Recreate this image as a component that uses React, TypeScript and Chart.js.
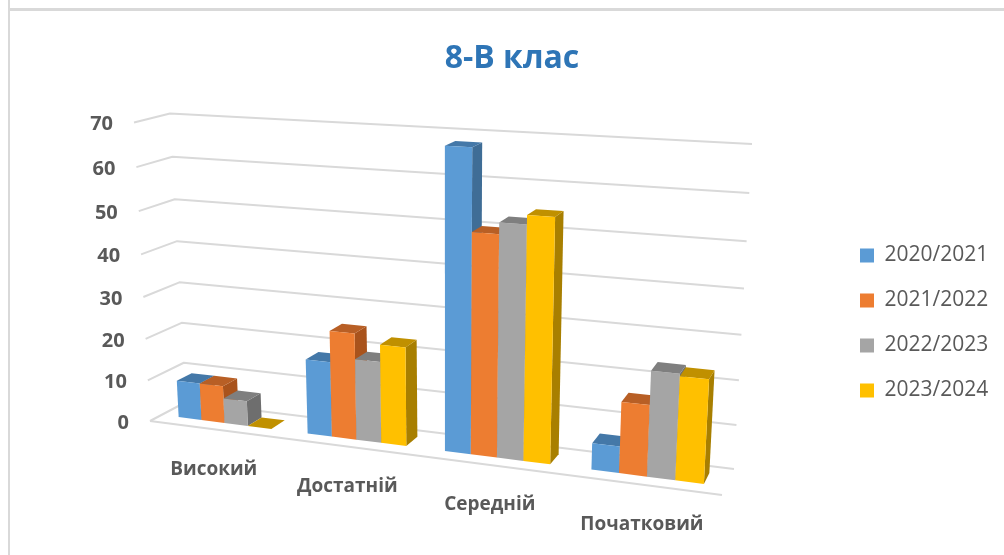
import React, { useEffect, useRef } from "react";
import { Chart, registerables } from "chart.js";

Chart.register(...registerables);

const categories = ["Високий", "Достатній", "Середній", "Початковий"];
const seriesNames = ["2020/2021", "2021/2022", "2022/2023", "2023/2024"];
const values2020 = [9, 17.7, 68, 6];
const values2021 = [9, 25, 50, 16];
const values2022 = [6, 19, 52.5, 23.5];
const values2023 = [0, 23, 54.5, 23];
const frontColors = ["#5b9bd5", "#ed7d31", "#a5a5a5", "#ffc000"];
const topColors = ["#4478a8", "#b85f25", "#7f7f7f", "#c09000"];
const sideColors = ["#3f6d96", "#a9531c", "#6e6e6e", "#a87f00"];

type P = [number, number];

function homography(p00: P, p10: P, p11: P, p01: P) {
  const [x0, y0] = p00, [x1, y1] = p10, [x2, y2] = p11, [x3, y3] = p01;
  const dx1 = x1 - x2, dx2 = x3 - x2, sx = x0 - x1 + x2 - x3;
  const dy1 = y1 - y2, dy2 = y3 - y2, sy = y0 - y1 + y2 - y3;
  const den = dx1 * dy2 - dx2 * dy1;
  const g = (sx * dy2 - dx2 * sy) / den;
  const h = (dx1 * sy - sx * dy1) / den;
  const a = x1 - x0 + g * x1, b = x3 - x0 + h * x3;
  const d = y1 - y0 + g * y1, e = y3 - y0 + h * y3;
  return (u: number, v: number): P => {
    const w = g * u + h * v + 1;
    return [(a * u + b * v + x0) / w, (d * u + e * v + y0) / w];
  };
}

// The 3D box of the chart: front and back planes, on screen
const frontPlane = homography([150, 421], [722, 495], [740, 157], [134, 122.5]);
const backPlane = homography([186, 402], [734, 469], [752, 144], [170, 113.5]);
const BAR_NEAR = 0.32;
const BAR_FAR = 0.74;

const perspectivePlugin = {
  id: "perspective",
  beforeDraw(chart: any) {
    const { ctx, width, height } = chart;
    ctx.save();
    ctx.strokeStyle = "#d9d9d9";
    ctx.lineWidth = 3;
    ctx.beginPath();
    ctx.moveTo(8, 9.5);
    ctx.lineTo(width, 9.5);
    ctx.stroke();
    ctx.lineWidth = 2;
    ctx.beginPath();
    ctx.moveTo(9, 0);
    ctx.lineTo(9, height);
    ctx.stroke();
    ctx.restore();
  },
  afterLayout(chart: any) {
    const legend = chart.legend;
    const shift = 860 - 24 - legend.left;
    legend.left += shift;
    legend.right += shift;
    legend.top = 245 - 24;
    legend.bottom = legend.top + legend.height;
  },
  beforeDatasetsDraw(chart: any) {
    const { ctx, chartArea: area, scales } = chart;
    const project = (px: number, py: number, z: number): P => {
      const u = (px - area.left) / (area.right - area.left);
      const v = (area.bottom - py) / (area.bottom - area.top);
      const f = frontPlane(u, v);
      const b = backPlane(u, v);
      return [f[0] + (b[0] - f[0]) * z, f[1] + (b[1] - f[1]) * z];
    };
    const poly = (pts: P[], color: string) => {
      ctx.fillStyle = color;
      ctx.beginPath();
      pts.forEach((p, i) => (i ? ctx.lineTo(p[0], p[1]) : ctx.moveTo(p[0], p[1])));
      ctx.closePath();
      ctx.fill();
    };

    ctx.save();
    // gridlines
    ctx.strokeStyle = "#d9d9d9";
    ctx.lineWidth = 2;
    ctx.lineJoin = "round";
    ctx.font = "700 20px 'Open Sans'";
    ctx.fillStyle = "#595959";
    ctx.textAlign = "right";
    ctx.textBaseline = "middle";
    const l = area.left, r = area.right;
    scales.y.ticks.forEach((tick: any) => {
      const py = scales.y.getPixelForValue(tick.value);
      const a = project(l, py, 0), b = project(l, py, 1), c = project(r, py, 1);
      ctx.beginPath();
      ctx.moveTo(a[0], a[1]);
      ctx.lineTo(b[0], b[1]);
      ctx.lineTo(c[0], c[1]);
      ctx.stroke();
      ctx.fillText(String(tick.value), a[0] - 21, a[1] + 2);
    });
    const zero = scales.y.getPixelForValue(0);
    const z0 = project(l, zero, 0), z1 = project(r, zero, 0);
    ctx.beginPath();
    ctx.moveTo(z0[0], z0[1]);
    ctx.lineTo(z1[0], z1[1]);
    ctx.stroke();

    // category labels
    ctx.font = "700 19px 'Open Sans'";
    ctx.textAlign = "center";
    categories.forEach((label, i) => {
      const p = project(scales.x.getPixelForTick(i), zero, 0);
      ctx.fillText(label, p[0], p[1] + 40);
    });

    // bars
    categories.forEach((_, i) => {
      chart.data.datasets.forEach((_ds: any, d: number) => {
        const el = chart.getDatasetMeta(d).data[i];
        const x0 = el.x - el.width / 2, x1 = el.x + el.width / 2;
        const yt = el.y, yb = el.base;
        const fbl = project(x0, yb, BAR_NEAR), fbr = project(x1, yb, BAR_NEAR);
        const ftl = project(x0, yt, BAR_NEAR), ftr = project(x1, yt, BAR_NEAR);
        const bbr = project(x1, yb, BAR_FAR);
        const btl = project(x0, yt, BAR_FAR), btr = project(x1, yt, BAR_FAR);
        poly([fbr, bbr, btr, ftr], sideColors[d]);
        poly([ftl, ftr, btr, btl], topColors[d]);
        poly([fbl, fbr, ftr, ftl], frontColors[d]);
      });
    });
    ctx.restore();
    return false;
  },
};

export default function App() {
  const ref = useRef<HTMLCanvasElement>(null);
  useEffect(() => {
    const series = [values2020, values2021, values2022, values2023];
    const chart = new Chart(ref.current as HTMLCanvasElement, {
      type: "bar",
      data: {
        labels: categories,
        datasets: seriesNames.map((name, i) => ({
          label: name,
          data: series[i],
          backgroundColor: frontColors[i],
          borderWidth: 0,
          categoryPercentage: 0.725,
          barPercentage: 1,
        })),
      },
      options: {
        responsive: false,
        animation: false,
        layout: { padding: { left: 20, top: 28 } },
        scales: {
          x: { display: false },
          y: { display: false, min: 0, max: 70, ticks: { stepSize: 10 } },
        },
        plugins: {
          tooltip: { enabled: false },
          title: {
            display: true,
            text: "8-В клас",
            color: "#2e75b6",
            font: { family: "'Open Sans'", size: 32, weight: "bold" },
            padding: { top: 12, bottom: 10 },
          },
          legend: {
            position: "right",
            align: "start",
            labels: {
              boxWidth: 14,
              boxHeight: 14,
              padding: 24,
              color: "#595959",
              font: { family: "'Open Sans'", size: 21 },
            },
          },
        },
      },
      plugins: [perspectivePlugin],
    } as any);
    return () => chart.destroy();
  }, []);
  return (
    <div style={{ position: "absolute", left: 0, top: 0, width: 1004, height: 555, background: "#fff" }}>
      <canvas ref={ref} width={1004} height={555} style={{ display: "block" }} />
    </div>
  );
}
